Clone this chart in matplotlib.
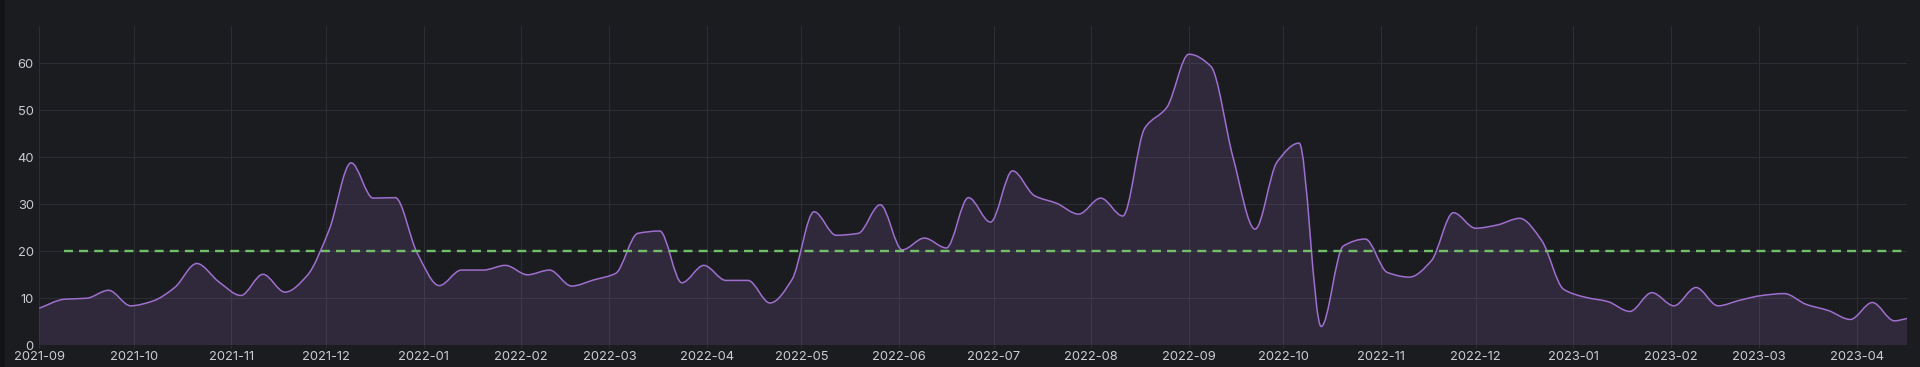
import datetime as dt
import numpy as np
import matplotlib
matplotlib.use("Agg")
import matplotlib.pyplot as plt
import matplotlib.dates as mdates
from matplotlib.path import Path
from matplotlib.patches import PathPatch, Rectangle

plt.rcParams['font.family'] = ['Inter', 'DejaVu Sans']

# weekly series (first point on the range start, last point on the range end)
start_date = dt.datetime(2021, 9, 1)
first_week = dt.datetime(2021, 9, 9)
end_date = dt.datetime(2023, 4, 17)
n_weeks = 84

values = [
    7.9, 9.8, 10.0, 11.7, 8.4, 9.4, 12.3, 17.4, 13.5, 10.6,
    15.1, 11.3, 14.8, 24.5, 38.8, 31.3, 31.4, 19.6, 12.7, 16.0,
    16.0, 17.0, 15.0, 16.0, 12.6, 13.9, 15.3, 23.8, 24.3, 13.3,
    17.0, 13.8, 13.8, 9.0, 14.0, 28.4, 23.4, 23.8, 29.9, 20.3,
    22.8, 20.7, 31.4, 26.2, 37.1, 31.8, 30.2, 27.9, 31.3, 27.5,
    46.2, 50.6, 61.9, 59.3, 40.0, 24.7, 39.0, 43.0, 4.0, 21.1,
    22.6, 15.5, 14.5, 18.0, 28.2, 24.9, 25.6, 27.0, 22.3, 11.9,
    10.2, 9.3, 7.2, 11.2, 8.4, 12.3, 8.4, 9.6, 10.6, 11.0,
    8.7, 7.4, 5.5, 9.1, 5.2, 5.7,
]
threshold = 20
y_ticks = [0, 10, 20, 30, 40, 50, 60]

dates = [start_date] + [first_week + dt.timedelta(days=7 * k) for k in range(n_weeks)] + [end_date]

bg = '#1b1c20'
grid_c = '#2c2e33'
line_c = '#9e6fce'
text_c = '#cbccd2'

fig = plt.figure(figsize=(19.2, 3.67), dpi=100, facecolor=bg)
ax = fig.add_axes([39.3 / 1920, 21.7 / 367, (1907 - 39.3) / 1920, (345.3 - 26) / 367])
ax.set_facecolor(bg)
fig.patches.append(Rectangle((0, 0), 5 / 1920, 1, transform=fig.transFigure,
                             facecolor='#121317', edgecolor='none', zorder=-1))

# monotone cubic (smooth) rendering through the points
x = mdates.date2num(dates)
y = np.array(values, dtype=float)
h = np.diff(x)
d = np.diff(y) / h
m = np.zeros(len(y))
m[0], m[-1] = d[0], d[-1]
for i in range(1, len(y) - 1):
    if d[i - 1] * d[i] <= 0:
        m[i] = 0
    else:
        w1 = 2 * h[i] + h[i - 1]
        w2 = h[i] + 2 * h[i - 1]
        m[i] = (w1 + w2) / (w1 / d[i - 1] + w2 / d[i])

verts = [(x[0], y[0])]
codes = [Path.MOVETO]
for i in range(len(y) - 1):
    verts += [(x[i] + h[i] / 3, y[i] + m[i] * h[i] / 3),
              (x[i + 1] - h[i] / 3, y[i + 1] - m[i + 1] * h[i] / 3),
              (x[i + 1], y[i + 1])]
    codes += [Path.CURVE4] * 3

fill_path = Path(verts + [(x[-1], 0), (x[0], 0), (x[0], y[0])],
                 codes + [Path.LINETO, Path.LINETO, Path.CLOSEPOLY])
ax.add_patch(PathPatch(fill_path, facecolor=line_c, alpha=0.16, edgecolor='none', zorder=2))
ax.add_patch(PathPatch(Path(verts, codes), facecolor='none', edgecolor=line_c, lw=1.1, zorder=3))

ax.plot([dates[1], dates[-1]], [threshold, threshold], color='#73bf69', lw=1.7,
        dashes=(3.8, 2.6), zorder=4)

ax.set_xlim(start_date, end_date)
ax.set_ylim(0, 67.9)
ax.set_yticks(y_ticks)
ax.xaxis.set_major_locator(mdates.MonthLocator())
ax.xaxis.set_major_formatter(mdates.DateFormatter('%Y-%m'))

ax.grid(True, color=grid_c, lw=0.8, zorder=0)
for s in ax.spines.values():
    s.set_visible(False)
ax.tick_params(axis='x', colors=grid_c, labelcolor=text_c, length=2.5, width=0.8, pad=1.5, labelsize=9.3)
ax.tick_params(axis='y', length=0, pad=4, labelcolor=text_c, labelsize=9.3)

plt.savefig('out.png', dpi=100, facecolor=bg)
